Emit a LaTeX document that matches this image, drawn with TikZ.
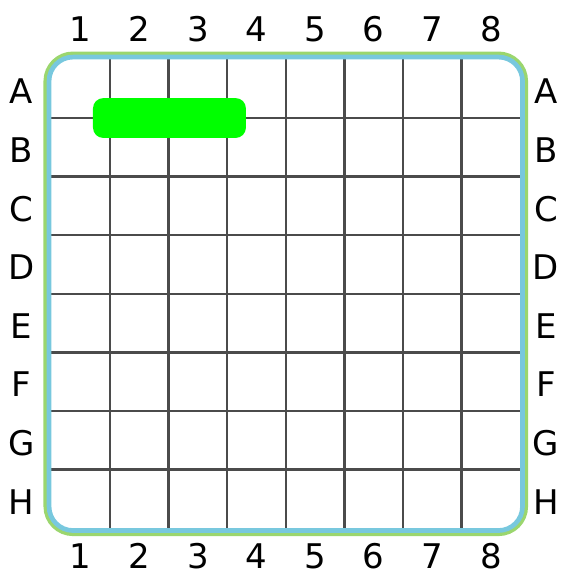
\documentclass[tikz,border=0pt]{standalone}
\usepackage{fontspec}
\setmainfont{DejaVu Sans}

\definecolor{rimgreen}{RGB}{155,214,110}
\definecolor{rimblue}{RGB}{120,200,222}
\definecolor{gridgray}{RGB}{75,75,75}
\definecolor{shipgreen}{RGB}{0,255,0}

\tikzset{
    lbl/.style = {anchor=base, inner sep=0pt, font=\fontsize{16.5}{20}\selectfont},
    gridline/.style = {gridgray, line width=1.1pt},
}

\begin{document}
\begin{tikzpicture}[x=1cm, y=1cm]
    % Page size
    \useasboundingbox (-0.877,-0.816) rectangle (8.713,9.014);

    % Draw grid
    \foreach \i in {1,...,7} {
        \draw[gridline] (\i,0) -- (\i,8);
        \draw[gridline] (0,\i) -- (8,\i);
    }

    % Draw rim
    \draw[rimgreen, line width=0.11cm, rounded corners=0.45cm] (-0.08,-0.08) rectangle (8.08,8.08);
    \draw[rimblue, line width=0.08cm, rounded corners=0.41cm] (-0.04,-0.04) rectangle (8.04,8.04);

    % Draw ship
    \fill[shipgreen, rounded corners=5pt] (0.71,6.66) rectangle (3.32,7.34);

    % Column numbers
    \foreach \k in {1,...,8} {
        \node[lbl] (top-\k) at (\k-0.5,8.31) {\k};
        \node[lbl] (bot-\k) at (\k-0.5,-0.68) {\k};
    }

    % Row letters
    \foreach \r [count=\k] in {A,B,C,D,E,F,G,H} {
        \node[lbl] (left-\r) at (-0.51,8.24-\k) {\r};
        \node[lbl] (right-\r) at (8.44,8.24-\k) {\r};
    }
\end{tikzpicture}
\end{document}
